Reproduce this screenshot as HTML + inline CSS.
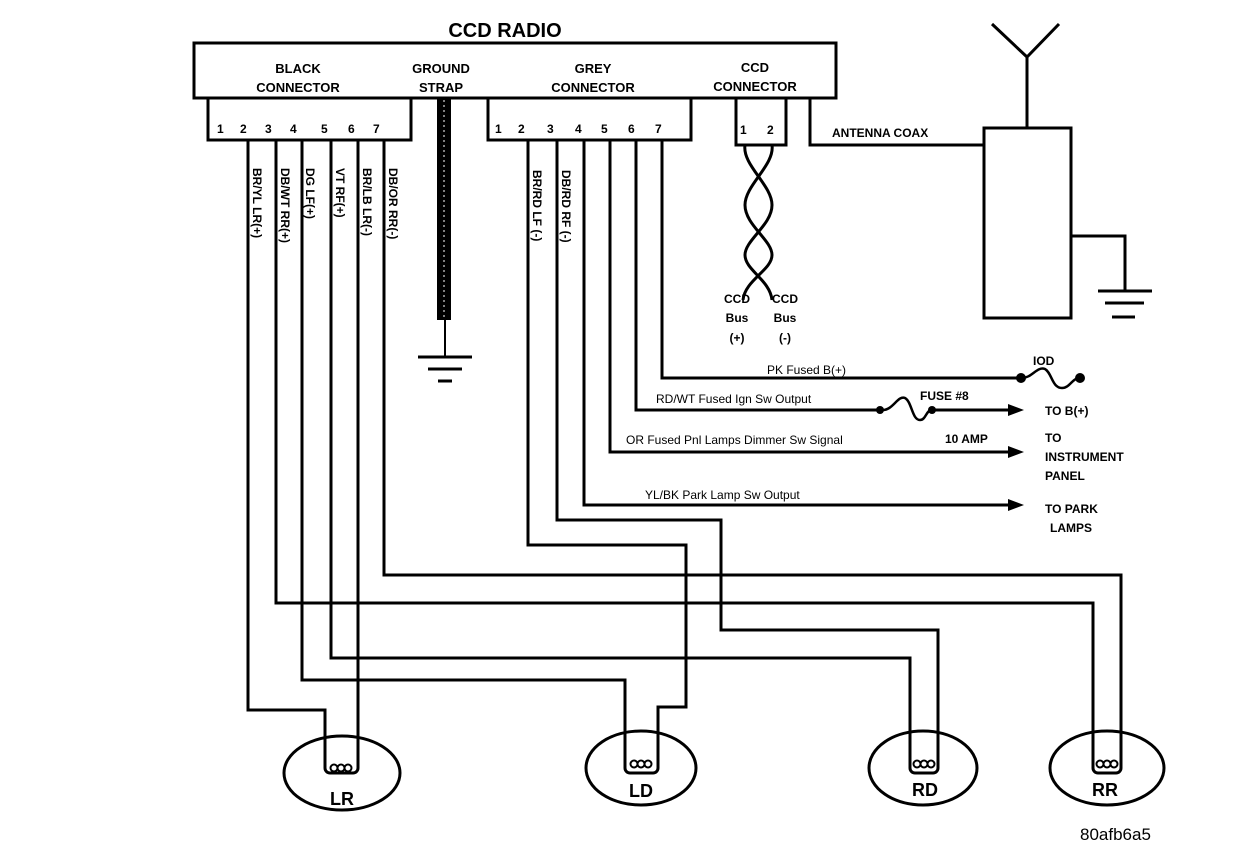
<!DOCTYPE html>
<html><head><meta charset="utf-8"><style>
html,body{margin:0;padding:0;background:#fff}
svg{display:block}
text{font-family:"Liberation Sans",Arial,sans-serif;fill:#000}
.s{font-size:12px;font-weight:bold}
.m{font-size:13px;font-weight:bold}
</style></head><body>
<svg width="1248" height="864" viewBox="0 0 1248 864" xmlns="http://www.w3.org/2000/svg">
<g fill="none" stroke="#000" stroke-width="3">
<rect x="194" y="43" width="642" height="55"/>
<rect x="208" y="98" width="203" height="42"/>
<rect x="488" y="98" width="203" height="42"/>
<rect x="736" y="98" width="50" height="47"/>
<polyline points="810,98 810,145 984,145"/>
<rect x="984" y="128" width="87" height="190"/>
<polyline points="1027,128 1027,57"/>
<polyline points="992,24 1027,57 1059,24"/>
<polyline points="1071,236 1125,236 1125,290"/>
<line x1="1098" y1="291" x2="1152" y2="291"/>
<line x1="1105" y1="303" x2="1144" y2="303"/>
<line x1="1112" y1="317" x2="1135" y2="317"/>
<line x1="445" y1="320" x2="445" y2="356" stroke-width="2"/>
<line x1="418" y1="357" x2="472" y2="357"/>
<line x1="428" y1="369" x2="462" y2="369"/>
<line x1="438" y1="381" x2="452" y2="381"/>
<path d="M745,145 C742,165 772,185 772,205 C772,225 745,240 745,255 C745,270 770,280 772,300" />
<path d="M772,145 C775,165 745,185 745,205 C745,225 772,240 772,255 C772,270 745,280 743,300" />
<polyline points="248,140 248,710 325,710 325,765"/>
<polyline points="276,140 276,603 1093,603 1093,765"/>
<polyline points="302,140 302,680 625,680 625,765"/>
<polyline points="331,140 331,658 910,658 910,765"/>
<polyline points="358,140 358,765"/>
<polyline points="384,140 384,575 1121,575 1121,765"/>
<polyline points="528,140 528,545 686,545 686,707 658,707 658,765"/>
<polyline points="557,140 557,520 721,520 721,630 938,630 938,765"/>
<polyline points="584,140 584,505 1010,505"/>
<polyline points="610,140 610,452 1010,452"/>
<polyline points="636,140 636,410 880,410"/>
<polyline points="930,410 1010,410"/>
<polyline points="662,140 662,378 1020,378"/>
<path d="M883,410 C893,410 898,395 905,398 C912,402 912,420 920,420 C926,420 926,410 932,410" stroke-width="2.5"/>
<path d="M1022,378 C1032,378 1037,366 1045,369 C1052,373 1052,388 1062,388 C1070,388 1072,378 1080,378" stroke-width="2.5"/>
<ellipse cx="342" cy="773" rx="58" ry="37"/>
<ellipse cx="641" cy="768" rx="55" ry="37"/>
<ellipse cx="923" cy="768" rx="54" ry="37"/>
<ellipse cx="1107" cy="768" rx="57" ry="37"/>
<path d="M325,765 v3 a5,5 0 0 0 5,5 h23 a5,5 0 0 0 5,-5 v-3"/>
<path d="M625,765 v3 a5,5 0 0 0 5,5 h23 a5,5 0 0 0 5,-5 v-3"/>
<path d="M910,765 v3 a5,5 0 0 0 5,5 h18 a5,5 0 0 0 5,-5 v-3"/>
<path d="M1093,765 v3 a5,5 0 0 0 5,5 h18 a5,5 0 0 0 5,-5 v-3"/>
</g>
<rect x="437" y="98" width="14" height="222" fill="#000"/>
<line x1="444" y1="100" x2="444" y2="318" stroke="#fff" stroke-width="1" stroke-dasharray="2,3"/>
<g fill="none" stroke="#000" stroke-width="2">
<circle cx="334" cy="768" r="3.5"/><circle cx="341" cy="768" r="3.5"/><circle cx="348" cy="768" r="3.5"/>
<circle cx="634" cy="764" r="3.5"/><circle cx="641" cy="764" r="3.5"/><circle cx="648" cy="764" r="3.5"/>
<circle cx="917" cy="764" r="3.5"/><circle cx="924" cy="764" r="3.5"/><circle cx="931" cy="764" r="3.5"/>
<circle cx="1100" cy="764" r="3.5"/><circle cx="1107" cy="764" r="3.5"/><circle cx="1114" cy="764" r="3.5"/>
</g>
<g fill="#000">
<circle cx="880" cy="410" r="4"/><circle cx="932" cy="410" r="4"/>
<circle cx="1021" cy="378" r="5"/><circle cx="1080" cy="378" r="5"/>
<polygon points="1008,404 1024,410 1008,416"/>
<polygon points="1008,446 1024,452 1008,458"/>
<polygon points="1008,499 1024,505 1008,511"/>
</g>
<text x="505" y="37" text-anchor="middle" style="font-size:20px;font-weight:bold">CCD RADIO</text>
<text class="m" x="298" y="73" text-anchor="middle">BLACK</text>
<text class="m" x="298" y="92" text-anchor="middle">CONNECTOR</text>
<text class="m" x="441" y="73" text-anchor="middle">GROUND</text>
<text class="m" x="441" y="92" text-anchor="middle">STRAP</text>
<text class="m" x="593" y="73" text-anchor="middle">GREY</text>
<text class="m" x="593" y="92" text-anchor="middle">CONNECTOR</text>
<text class="m" x="755" y="72" text-anchor="middle">CCD</text>
<text class="m" x="755" y="91" text-anchor="middle">CONNECTOR</text>
<g class="s">
<text x="217" y="133">1</text><text x="240" y="133">2</text><text x="265" y="133">3</text><text x="290" y="133">4</text><text x="321" y="133">5</text><text x="348" y="133">6</text><text x="373" y="133">7</text>
<text x="495" y="133">1</text><text x="518" y="133">2</text><text x="547" y="133">3</text><text x="575" y="133">4</text><text x="601" y="133">5</text><text x="628" y="133">6</text><text x="655" y="133">7</text>
<text x="740" y="134">1</text><text x="767" y="134">2</text>
</g>
<g class="s">
<text transform="translate(253,168) rotate(90)">BR/YL  LR(+)</text>
<text transform="translate(281,168) rotate(90)">DB/WT  RR(+)</text>
<text transform="translate(306,168) rotate(90)">DG  LF(+)</text>
<text transform="translate(336,168) rotate(90)">VT  RF(+)</text>
<text transform="translate(363,168) rotate(90)">BR/LB  LR(-)</text>
<text transform="translate(389,168) rotate(90)">DB/OR  RR(-)</text>
<text transform="translate(533,170) rotate(90)">BR/RD LF (-)</text>
<text transform="translate(562,170) rotate(90)">DB/RD RF (-)</text>
</g>
<text class="s" x="832" y="137">ANTENNA COAX</text>
<g class="s" text-anchor="middle">
<text x="737" y="303">CCD</text><text x="737" y="322">Bus</text><text x="737" y="342">(+)</text>
<text x="785" y="303">CCD</text><text x="785" y="322">Bus</text><text x="785" y="342">(-)</text>
</g>
<g class="s" style="font-weight:normal">
<text x="767" y="374">PK Fused B(+)</text>
<text x="656" y="403">RD/WT Fused Ign Sw Output</text>
<text x="626" y="444">OR Fused Pnl Lamps Dimmer Sw Signal</text>
<text x="645" y="499">YL/BK Park Lamp Sw Output</text>
</g>
<g class="s">
<text x="1033" y="365">IOD</text>
<text x="920" y="400">FUSE #8</text>
<text x="945" y="443">10 AMP</text>
<text x="1045" y="415">TO B(+)</text>
<text x="1045" y="442">TO</text>
<text x="1045" y="461">INSTRUMENT</text>
<text x="1045" y="480">PANEL</text>
<text x="1045" y="513">TO PARK</text>
<text x="1050" y="532">LAMPS</text>
</g>
<g style="font-size:18px;font-weight:bold" text-anchor="middle">
<text x="342" y="805">LR</text>
<text x="641" y="797">LD</text>
<text x="925" y="796">RD</text>
<text x="1105" y="796">RR</text>
</g>
<text x="1080" y="840" style="font-size:17px">80afb6a5</text>
</svg>
</body></html>
